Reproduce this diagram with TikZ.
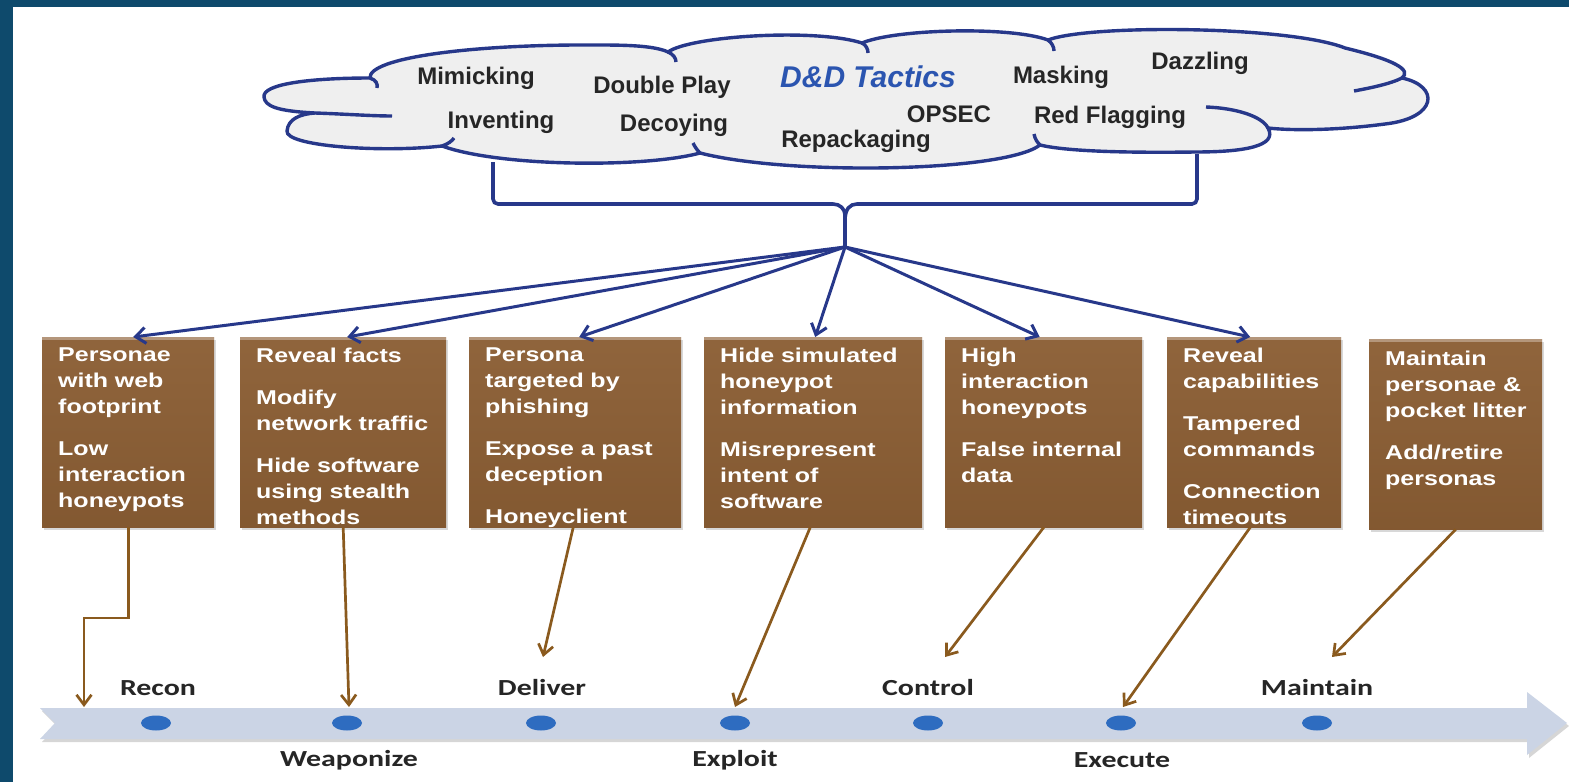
\documentclass[tikz,border=0pt]{standalone}
\usepackage{fontspec}
\setmainfont{Liberation Sans}
\newfontfamily\cloudfont{Liberation Sans Bold}
\newfontfamily\tacticfont{Liberation Sans Bold Italic}
\newfontfamily\boxfont[FakeStretch=1.25]{Liberation Sans Bold}
\newfontfamily\stagefont[FakeStretch=1.3]{Carlito Bold}
\usetikzlibrary{arrows.meta,shapes.geometric,shadows,calc}
\definecolor{bgdark}{HTML}{0E4A6C}
\definecolor{cloudfill}{HTML}{EFEFEF}
\definecolor{navy}{HTML}{27388A}
\definecolor{boxbrown}{HTML}{8B5E34}
\definecolor{brownline}{HTML}{8A5A1E}
\definecolor{bandcol}{HTML}{CBD4E5}
\definecolor{dotblue}{HTML}{2E6CC0}
\definecolor{tacticblue}{HTML}{2B55B0}
\begin{document}
\begin{tikzpicture}[x=1pt,y=-1pt,
  navyline/.style={draw=navy, line width=3.6pt},
  cloudtext/.style={font=\cloudfont\fontsize{24}{28}\selectfont, inner sep=0, text=black!85},
  tactictext/.style={font=\tacticfont\fontsize{30}{34}\selectfont, inner sep=0, text=tacticblue},
  brownbox/.style={top color=boxbrown!96!white, bottom color=boxbrown!94!black, anchor=north west,
    minimum height=190, inner sep=0, draw=none,
    drop shadow={shadow xshift=2pt, shadow yshift=-3pt, opacity=0.3},
    path picture={\fill[boxbrown!65!white] (path picture bounding box.north west) rectangle ([yshift=-3pt]path picture bounding box.north east);}},
  boxtext/.style={anchor=north west, align=left, inner sep=0, text=white,
    font=\boxfont\fontsize{20}{26}\selectfont},
  navyarrow/.style={draw=navy, line width=3pt, -{Straight Barb[length=10pt,width=16pt]}},
  brownarrow/.style={draw=brownline, line width=2.7pt, -{Straight Barb[length=10pt,width=15pt]}},
  dotnode/.style={ellipse, fill=dotblue, minimum width=30, minimum height=15, inner sep=0, draw=none},
  stagelabel/.style={font=\stagefont\fontsize{23}{26}\selectfont, inner sep=0, text=black!85}
]
\useasboundingbox (0,0) rectangle (1569,782);
% background frame
\fill[bgdark] (0,0) rectangle (1569,782);
\fill[white] (13,7) rectangle (1569,782);

% cloud
\path[fill=cloudfill, draw=navy, line width=3.4pt]
 (264,97)
 .. controls (262,84) and (310,78) .. (370,78)
 .. controls (368,58) and (470,44) .. (600,45)
 .. controls (630,45) and (655,46) .. (668,52)
 .. controls (690,36) and (815,28) .. (862,43)
 .. controls (895,29) and (1010,26) .. (1048,40)
 .. controls (1090,24) and (1290,26) .. (1345,48)
 .. controls (1395,60) and (1412,70) .. (1402,78)
 .. controls (1440,86) and (1438,118) .. (1385,124)
 .. controls (1340,130) and (1295,131) .. (1268,128)
 .. controls (1278,146) and (1245,152) .. (1195,152)
 .. controls (1120,153) and (1065,151) .. (1040,145)
 .. controls (1005,172) and (790,176) .. (700,153)
 .. controls (645,168) and (500,167) .. (442,146)
 .. controls (380,153) and (285,146) .. (287,131)
 .. controls (288,119) and (300,114) .. (315,113)
 .. controls (276,111) and (265,106) .. (264,97)
 -- cycle;
\begin{scope}[draw=navy, line width=3.4pt]
\draw (370,78) .. controls (376,80) and (378,84) .. (377,88);
\draw (315,113) .. controls (345,114) and (372,116) .. (392,116);
\draw (442,146) .. controls (448,144) and (452,141) .. (454,138);
\draw (668,52) .. controls (673,54) and (676,58) .. (676,62);
\draw (862,43) .. controls (866,45) and (868,49) .. (868,53);
\draw (1048,40) .. controls (1052,43) and (1054,47) .. (1054,51);
\draw (1402,78) .. controls (1390,84) and (1370,88) .. (1354,91);
\draw (1268,128) .. controls (1262,116) and (1235,108) .. (1206,107);
\draw (1040,145) .. controls (1037,142) and (1035,139) .. (1034,134);
\draw (700,153) .. controls (697,150) and (695,147) .. (693,143);
\end{scope}

% cloud texts
\node[cloudtext] (c1) at (476,78) {Mimicking};
\node[cloudtext] (c2) at (662,87) {Double Play};
\node[tactictext] (c3) at (868,77) {D\&D Tactics};
\node[cloudtext] (c4) at (1061,77) {Masking};
\node[cloudtext] (c5) at (1200,63) {Dazzling};
\node[cloudtext] (c6) at (501,122) {Inventing};
\node[cloudtext] (c7) at (674,125) {Decoying};
\node[cloudtext] (c8) at (949,114) {OPSEC};
\node[cloudtext] (c9) at (1110,117) {Red Flagging};
\node[cloudtext] (c10) at (856,141) {Repackaging};

% bracket
\coordinate (bl) at (493,162);
\coordinate (br) at (1197,154);
\coordinate (hub) at (845,247);
\draw[navyline, rounded corners=5] (bl) -- (493,204) -- (828,204) .. controls (840,204) and (845,209) .. (845,220) -- (hub);
\draw[navyline, rounded corners=5] (br) -- (1197,204) -- (862,204) .. controls (850,204) and (845,209) .. (845,220);

% boxes
\node[brownbox, minimum width=172] (b1) at (42,337) {};
\node[brownbox, minimum width=206] (b2) at (240,337) {};
\node[brownbox, minimum width=212] (b3) at (469,337) {};
\node[brownbox, minimum width=218] (b4) at (704,337) {};
\node[brownbox, minimum width=197] (b5) at (945,337) {};
\node[brownbox, minimum width=174] (b6) at (1167,337) {};
\node[brownbox, minimum width=173] (b7) at (1369,339) {};

\node[boxtext, text width=150] (t1) at ($(b1.north west)+(16,11)$) {Personae\\with web\\footprint\\[16pt]Low\\interaction\\honeypots};
\node[boxtext, text width=185] (t2) at ($(b2.north west)+(16,11)$) {Reveal facts\\[16pt]Modify\\network traffic\\[16pt]Hide software\\using stealth\\methods};
\node[boxtext, text width=190] (t3) at ($(b3.north west)+(16,11)$) {Persona\\targeted by\\phishing\\[16pt]Expose a past\\deception\\[16pt]Honeyclient};
\node[boxtext, text width=196] (t4) at ($(b4.north west)+(16,11)$) {Hide simulated\\honeypot\\information\\[16pt]Misrepresent\\intent of\\software};
\node[boxtext, text width=175] (t5) at ($(b5.north west)+(16,11)$) {High\\interaction\\honeypots\\[16pt]False internal\\data};
\node[boxtext, text width=155] (t6) at ($(b6.north west)+(16,11)$) {Reveal\\capabilities\\[16pt]Tampered\\commands\\[16pt]Connection\\timeouts};
\node[boxtext, text width=155] (t7) at ($(b7.north west)+(16,12)$) {Maintain\\personae \&\\pocket litter\\[16pt]Add/retire\\personas};

% navy arrows from hub
\draw[navyarrow] (hub) -- ([xshift=5pt]b1.north);
\draw[navyarrow] (hub) -- ([xshift=4pt]b2.north);
\draw[navyarrow] (hub) -- ([xshift=4pt]b3.north);
\draw[navyarrow] (hub) -- ([xshift=2pt]b4.north);
\draw[navyarrow] (hub) -- ([xshift=-4pt]b5.north);
\draw[navyarrow] (hub) -- ([xshift=-4pt]b6.north);

% timeline band
\fill[black!35, opacity=0.45] (42,711) -- (1529,711) -- (1529,695) -- (1569,726) -- (1529,758) -- (1529,742) -- (42,742) -- (57,726) -- cycle;
\fill[bandcol] (40,708) -- (1527,708) -- (1527,692) -- (1567,723) -- (1527,755) -- (1527,739) -- (40,739) -- (55,723) -- cycle;

% dots
\foreach \i/\x in {1/156,2/347,3/541,4/735,5/928,6/1121,7/1317}{
  \node[dotnode] (d\i) at (\x,723) {};
}

% stage labels
\node[stagelabel] (s1) at (158,688) {Recon};
\node[stagelabel] (s2) at (349,760) {Weaponize};
\node[stagelabel] (s3) at (542,688) {Deliver};
\node[stagelabel] (s4) at (735,760) {Exploit};
\node[stagelabel] (s5) at (928,688) {Control};
\node[stagelabel] (s6) at (1122,760) {Execute};
\node[stagelabel] (s7) at (1317,688) {Maintain};

% brown arrows
\coordinate (k1) at (84,618);
\coordinate (e1) at (84,707);
\coordinate (e2) at (349,707);
\coordinate (e3) at (543,657);
\coordinate (e4) at (735,707);
\coordinate (e5) at (945,657);
\coordinate (e6) at (1123,707);
\coordinate (e7) at (1332,657);
\draw[brownarrow] (b1.south) |- (k1) -- (e1);
\draw[brownarrow] (b2.south) -- (e2);
\draw[brownarrow] ([xshift=-2pt]b3.south) -- (e3);
\draw[brownarrow] ([xshift=-3pt]b4.south) -- (e4);
\draw[brownarrow] (b5.south) -- (e5);
\draw[brownarrow] ([xshift=-4pt]b6.south) -- (e6);
\draw[brownarrow] (b7.south) -- (e7);
\end{tikzpicture}
\end{document}
